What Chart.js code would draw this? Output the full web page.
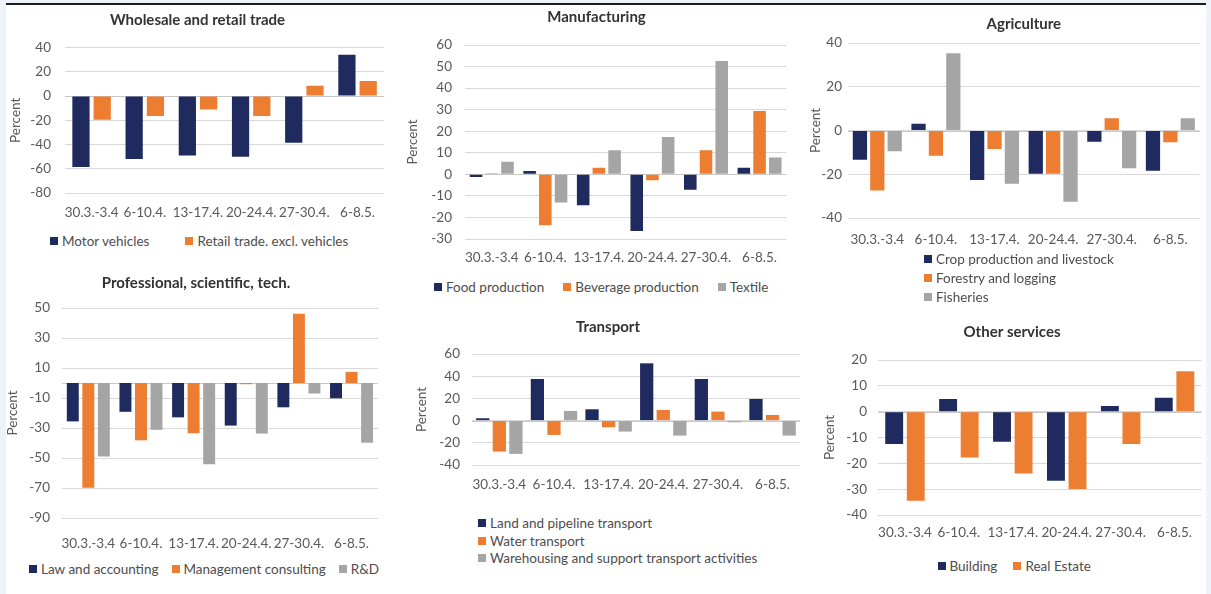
<!DOCTYPE html>
<html>
<head>
<meta charset="utf-8">
<script src="https://cdn.jsdelivr.net/npm/chart.js@4.4.1/dist/chart.umd.min.js"></script>
<style>
  html, body { margin: 0; padding: 0; width: 1211px; height: 594px; overflow: hidden; background: #eef2fb; }
  #sheet { position: absolute; left: 6px; top: 3px; width: 1200px; height: 591px; background: #fff; border-top: 2px solid #1a1a1a; }
  .box { position: absolute; }
  .legend { position: absolute; font: 13.5px Lato, sans-serif; color: #4d4d4d; white-space: nowrap; line-height: 16px; }
  .legend .item { display: inline-flex; align-items: center; }
  .legend.rows .item { display: flex; }
  .legend .sw { display: inline-block; width: 8px; height: 8px; margin-right: 4px; }
</style>
</head>
<body>
<div id="sheet"></div>

<script>
const categories = ['30.3.-3.4', '6-10.4.', '13-17.4.', '20-24.4.', '27-30.4.', '6-8.5.'];

// Wholesale and retail trade
const motorVehicles = [-58.5, -52, -49, -50, -38.5, 34];
const retailTrade = [-19.5, -16.5, -11, -16.5, 8.5, 12.5];

// Manufacturing
const foodProduction = [-1.2, 1.5, -14.3, -26.3, -7.2, 3];
const beverageProduction = [0.5, -23.6, 3, -2.8, 11.2, 29.4];
const textile = [5.8, -13.1, 11.2, 17.3, 52.6, 7.8];

// Agriculture
const cropLivestock = [-13.4, 3.1, -22.6, -19.8, -5.1, -18.4];
const forestryLogging = [-27.4, -11.5, -8.5, -19.8, 5.6, -5.4];
const fisheries = [-9.5, 35.3, -24.3, -32.6, -17.2, 5.6];

// Professional, scientific, tech.
const lawAccounting = [-25.6, -19.2, -22.9, -28.4, -16.2, -10.2];
const managementConsulting = [-69.8, -38.2, -33.5, -0.8, 46.2, 7.4];
const researchDev = [-49, -31.2, -54.2, -33.7, -7, -39.8];

// Transport
const landTransport = [2.1, 37.5, 10.2, 51.6, 37.5, 19.5];
const waterTransport = [-27.9, -12.9, -6, 9.6, 8.1, 5.1];
const warehousing = [-30, 8.7, -9.9, -13.5, -1.5, -13.5];

// Other services
const building = [-12.5, 4.9, -11.6, -26.7, 2.2, 5.4];
const realEstate = [-34.5, -17.7, -23.9, -29.9, -12.5, 15.6];

const NAVY = '#1f2b5e';
const ORANGE = '#ed7d31';
const GREY = '#a5a5a5';
const FONT = 'Lato, sans-serif';

// draws the category axis line at zero
const zeroLine = {
  id: 'zeroLine',
  beforeDatasetsDraw(chart) {
    const y = Math.round(chart.scales.y.getPixelForValue(0)) + 0.5;
    const { left, right } = chart.chartArea;
    const ctx = chart.ctx;
    ctx.save();
    ctx.strokeStyle = '#c8c8c8';
    ctx.lineWidth = 1;
    ctx.beginPath();
    ctx.moveTo(left, y);
    ctx.lineTo(right, y);
    ctx.stroke();
    ctx.restore();
  }
};

function makePanel(p) {
  const div = document.createElement('div');
  div.className = 'box';
  div.style.left = p.left + 'px';
  div.style.top = p.top + 'px';
  div.style.width = p.width + 'px';
  div.style.height = p.height + 'px';
  const canvas = document.createElement('canvas');
  div.appendChild(canvas);
  document.body.appendChild(div);

  const chart = new Chart(canvas, {
    type: 'bar',
    data: {
      labels: categories,
      datasets: p.series.map(s => ({
        label: s[0],
        data: s[1],
        backgroundColor: s[2],
        borderWidth: 0,
        barPercentage: p.bp,
        categoryPercentage: p.cp
      }))
    },
    options: {
      responsive: true,
      maintainAspectRatio: false,
      animation: false,
      layout: { padding: 0 },
      scales: {
        x: {
          grid: { display: false, drawTicks: false },
          border: { display: false },
          ticks: { color: '#595959', font: { family: FONT, size: 13.5 }, padding: p.xPad, maxRotation: 0, autoSkip: false },
          afterFit(scale) { scale.height = 36; }
        },
        y: {
          min: p.min,
          max: p.max,
          ticks: { stepSize: p.step, color: '#595959', font: { family: FONT, size: 13.5 }, padding: p.yPad },
          grid: { color: '#d9d9d9', drawTicks: false },
          border: { display: false },
          title: { display: true, text: 'Percent', color: '#595959', font: { family: FONT, size: 13.5 }, padding: { top: 0, bottom: 0 } },
          afterFit(scale) { scale.width = p.yWidth; }
        }
      },
      plugins: {
        legend: { display: false },
        tooltip: { enabled: false },
        title: {
          display: true,
          text: p.title,
          fullSize: p.titleFull,
          color: '#333333',
          font: { family: FONT, size: 15, weight: 'bold' },
          padding: { top: p.titlePad[0] - 1.2, bottom: p.titlePad[1] - 1.2 }
        }
      }
    },
    plugins: [zeroLine]
  });

  // legend drawn as html from the chart's own legend items
  const lg = document.createElement('div');
  lg.className = 'legend' + (p.legend.rows ? ' rows' : '');
  const items = Chart.defaults.plugins.legend.labels.generateLabels(chart);
  items.forEach((it, i) => {
    const item = document.createElement('span');
    item.className = 'item';
    if (p.legend.rows) item.style.height = p.legend.rowH + 'px';
    else if (i > 0) item.style.marginLeft = p.legend.gap + 'px';
    const sw = document.createElement('span');
    sw.className = 'sw';
    sw.style.background = it.fillStyle;
    item.appendChild(sw);
    item.appendChild(document.createTextNode(it.text));
    lg.appendChild(item);
  });
  document.body.appendChild(lg);
  if (p.legend.rows) {
    lg.style.left = p.legend.x + 'px';
    lg.style.top = (p.legend.y - p.legend.rowH / 2) + 'px';
  } else {
    lg.style.left = (p.legend.x - lg.offsetWidth / 2) + 'px';
    lg.style.top = (p.legend.y - 8) + 'px';
  }
}

makePanel({
  title: 'Wholesale and retail trade', titleFull: true, titlePad: [4, 20],
  left: 8, top: 8, width: 379, height: 221, yWidth: 57, yPad: 14, xPad: 12,
  min: -80, max: 40, step: 20, cp: 0.8, bp: 0.81,
  series: [['Motor vehicles', motorVehicles, NAVY], ['Retail trade. excl. vehicles', retailTrade, ORANGE]],
  legend: { x: 199, y: 240, gap: 36 }
});

makePanel({
  title: 'Manufacturing', titleFull: true, titlePad: [3, 20.4],
  left: 405, top: 6, width: 383, height: 269, yWidth: 60, yPad: 13, xPad: 11,
  min: -30, max: 60, step: 10, cp: 0.88, bp: 0.8,
  series: [['Food production', foodProduction, NAVY], ['Beverage production', beverageProduction, ORANGE], ['Textile', textile, GREY]],
  legend: { x: 601, y: 286, gap: 19 }
});

makePanel({
  title: 'Agriculture', titleFull: false, titlePad: [10, 11.4],
  left: 808, top: 6, width: 394, height: 248, yWidth: 40, yPad: 6, xPad: 14,
  min: -40, max: 40, step: 20, cp: 0.89, bp: 0.82,
  series: [['Crop production and livestock', cropLivestock, NAVY], ['Forestry and logging', forestryLogging, ORANGE], ['Fisheries', fisheries, GREY]],
  legend: { rows: true, x: 924, y: 259, rowH: 19 }
});

makePanel({
  title: 'Professional, scientific, tech.', titleFull: true, titlePad: [10.2, 17.2],
  left: 5, top: 265, width: 382, height: 289, yWidth: 57, yPad: 12, xPad: 18,
  min: -90, max: 50, step: 20, cp: 0.885, bp: 0.77,
  series: [['Law and accounting', lawAccounting, NAVY], ['Management consulting', managementConsulting, ORANGE], ['R&D', researchDev, GREY]],
  legend: { x: 204, y: 568, gap: 13 }
});

makePanel({
  title: 'Transport', titleFull: true, titlePad: [14.2, 19.2],
  left: 414, top: 305, width: 388, height: 196, yWidth: 58, yPad: 12, xPad: 12,
  min: -40, max: 60, step: 20, cp: 0.91, bp: 0.8,
  series: [['Land and pipeline transport', landTransport, NAVY], ['Water transport', waterTransport, ORANGE], ['Warehousing and support transport activities', warehousing, GREY]],
  legend: { rows: true, x: 478, y: 523, rowH: 17.5 }
});

makePanel({
  title: 'Other services', titleFull: true, titlePad: [14.2, 20.2],
  left: 822, top: 310, width: 380, height: 241, yWidth: 56, yPad: 11, xPad: 10,
  min: -40, max: 20, step: 10, cp: 0.8, bp: 0.83,
  series: [['Building', building, NAVY], ['Real Estate', realEstate, ORANGE]],
  legend: { x: 1014, y: 565, gap: 16 }
});
</script>
</body>
</html>
